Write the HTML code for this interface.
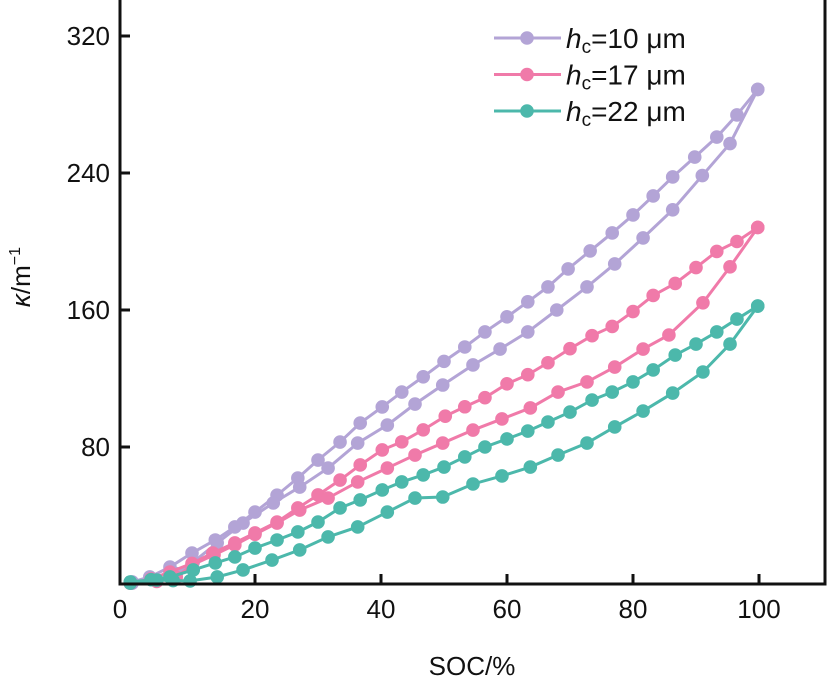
<!DOCTYPE html>
<html><head><meta charset="utf-8"><style>
body{margin:0;background:#fff;}
svg{display:block;font-family:"Liberation Sans",sans-serif;}
</style></head><body>
<svg id="chart" width="827" height="683">
<g id="plot"></g>
<g id="axes"></g>
<g id="legend"></g>
</svg>
<script>
const xTicks=[0,20,40,60,80,100];
const yTicks=[80,160,240,320];
const seriesNames=["h10","h17","h22"];
const seriesLabels=["10 μm","17 μm","22 μm"];
const seriesColors=["#b3a4d6","#f07aa9","#4cb8ab"];
const p10aX=[0.5,3.3,6.5,10,13.7,16.8,20,23.5,26.8,30,33.5,36.7,40.2,43.3,46.7,50,53.3,56.5,60,63.3,66.5,69.7,73.2,76.7,80,83.2,86.3,89.8,93.3,96.5,99.8];
const p10aY=[1.2,4.1,9.9,18.1,25.7,33.3,42,51.9,61.9,72.4,82.9,94,103.4,112.1,121,130,138.4,147.2,156,164.8,173.5,184,194.5,205,215.5,226.6,237.7,249.3,261,273.9,288.8];
const p10bX=[0.5,4.4,7.5,10.2,14,18.1,22.9,27.1,31.6,36.3,41,45.4,49.8,54.6,58.9,63.3,67.9,72.7,77.1,81.6,86.3,91,95.4,99.8];
const p10bY=[0.5,2.3,6,12.8,24,35.6,47.3,56.6,67.7,82.3,92.8,105.1,116.2,127.9,137.2,147.2,160,173.5,186.9,202.1,218.5,238.5,257.2,288.8];
const p17aX=[0.2,3.5,6.5,10,13.3,16.8,20,23.5,26.8,30,33.5,36.7,40.2,43.3,46.7,50.2,53.3,56.5,60,63.3,66.5,70,73.5,76.7,80,83.2,86.7,90,93.3,96.5,99.8];
const p17aY=[0.6,3,7,12,18.1,24,29.8,36.2,44.4,52,60.7,69.5,78.3,83,90,98,103.5,108.8,116.9,122.2,129.2,137.4,145,150.4,159.1,168.5,175.5,184.8,194.2,200,208.2];
const p17bX=[0.2,4.4,7.5,10,13.5,16.8,20,23.5,27.1,31.6,36.3,41,45.4,49.8,54.6,59.2,63.7,68.1,72.7,77.1,81.6,85.7,91.1,95.4,99.8];
const p17bY=[0.5,1.5,4,11.1,17,22.8,29,35.6,43.2,50.2,59.6,67.7,75.3,82.3,89.9,96.4,102.8,112.1,118,126.7,137.2,145.4,164.2,185.2,208.2];
const p22aX=[0.2,3.5,6.5,10.2,13.7,16.8,20,23.5,26.8,30,33.5,36.7,40.2,43.3,46.7,50,53.3,56.5,60,63.3,66.5,70,73.5,76.7,80,83.2,86.7,90,93.3,96.5,99.8];
const p22aY=[1.2,2.5,4.1,8.2,12.3,15.8,21,25.7,30.4,36.2,44.4,49.1,54.9,59.6,63.7,68.3,74.2,80,84.7,89.3,94.6,100.4,107.4,112.1,118,125,133.7,140.1,147.2,154.7,162.3];
const p22bX=[0.2,4.4,7,9.7,14,18.1,22.7,27.1,31.6,36.3,41,45.4,49.8,54.6,59.2,63.7,68.1,72.7,77.1,81.6,86.3,91.1,95.4,99.8];
const p22bY=[0.5,2.3,2,1.8,4.1,8.2,14,19.9,27.5,33.3,42,50.2,50.8,58.4,63.1,68.3,75.3,82.3,91.7,101,111.5,123.8,140.1,162.3];
const branches=[[p10aX,p10aY,0],[p10bX,p10bY,0],[p17aX,p17aY,1],[p17bX,p17bY,1],[p22aX,p22aY,2],[p22bX,p22bY,2]];

const NS="http://www.w3.org/2000/svg";
const X0=120,X1=825,Y0=584,Y1=0;
function sx(v){return 129+v*6.3;}
function sy(v){return 584-v*1.7125;}
function mk(tag,attrs,parent){const e=document.createElementNS(NS,tag);for(const k in attrs)e.setAttribute(k,attrs[k]);parent.appendChild(e);return e;}
const plot=document.getElementById('plot'),axes=document.getElementById('axes'),legend=document.getElementById('legend');

branches.forEach((b,bi)=>{
  const [xs,ys,si]=b;const c=seriesColors[si];
  const pts=xs.map((x,i)=>sx(x)+","+sy(ys[i])).join(" ");
  const pl=mk('polyline',{points:pts,fill:'none',stroke:c,'stroke-width':3},plot);
  
  
  xs.forEach((x,i)=>{
    const m=mk('circle',{cx:sx(x),cy:sy(ys[i]),r:6.8,fill:c},plot);
    
    
  });
});

const frame=mk('rect',{x:X0,y:-2,width:X1-X0,height:Y0+2,fill:'none',stroke:'#111','stroke-width':3},axes);


xTicks.forEach(t=>{
  const x=sx(t);
  if(t>0){const l=mk('line',{x1:x,x2:x,y1:Y0,y2:Y0-10,stroke:'#111','stroke-width':3},axes);
  
  }
  const tx=mk('text',{x:t===0?X0:x,y:618,'text-anchor':'middle','font-size':26,fill:'#111'},axes);
  tx.textContent=t;
  
  
});
yTicks.forEach(t=>{
  const y=sy(t);
  const l=mk('line',{x1:X0,x2:X0+10,y1:y,y2:y,stroke:'#111','stroke-width':3},axes);
  
  
  const tx=mk('text',{x:110,y:y+9,'text-anchor':'end','font-size':26,fill:'#111'},axes);
  tx.textContent=t;
  
  
});
const xt=mk('text',{x:472,y:675,'text-anchor':'middle','font-size':26,fill:'#111'},axes);
xt.textContent='SOC/%';


const yt=mk('text',{transform:'translate(30,277) rotate(-90)','text-anchor':'middle','font-size':26,fill:'#111'},axes);
yt.innerHTML='<tspan font-style="italic">κ</tspan>/m<tspan dy="-10" font-size="16">−1</tspan>';



seriesLabels.forEach((lab,i)=>{
  const y=38+i*36.5;
  const g=mk('g',{},legend);
  
  
  mk('line',{x1:494,x2:561,y1:y,y2:y,stroke:seriesColors[i],'stroke-width':3},g);
  mk('circle',{cx:527,cy:y,r:6.8,fill:seriesColors[i]},g);
  const t=mk('text',{x:566,y:y+10,'font-size':28,fill:'#111'},g);
  t.innerHTML='<tspan font-style="italic">h</tspan><tspan font-size="19" dy="5">c</tspan><tspan dy="-5">='+lab+'</tspan>';
});
</script>
</body></html>
